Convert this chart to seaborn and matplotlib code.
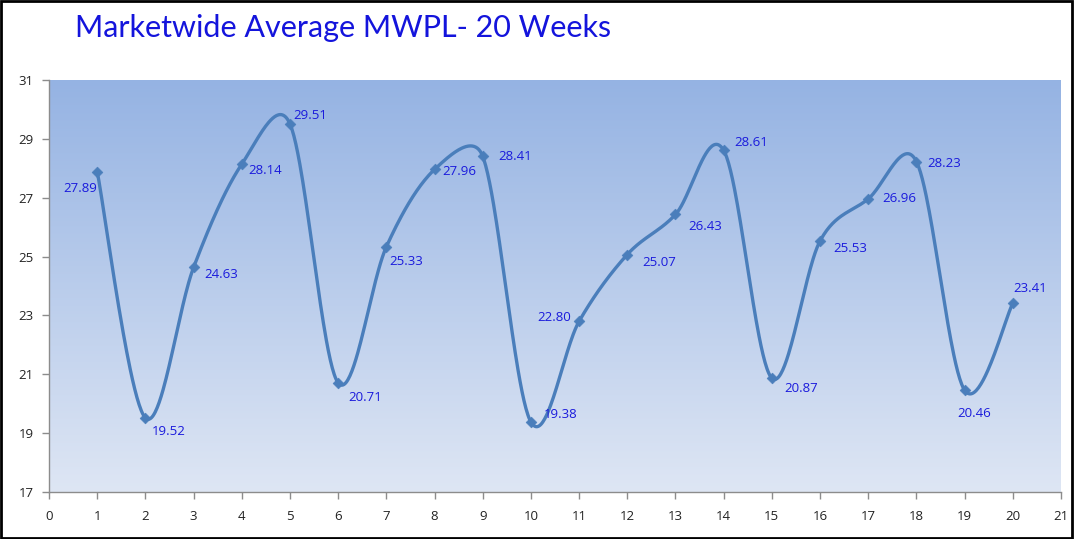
import numpy as np
import pandas as pd
import matplotlib
matplotlib.use("Agg")
import matplotlib.pyplot as plt
import seaborn as sns

weeks = list(range(1, 21))
mwpl = [27.89, 19.52, 24.63, 28.14, 29.51, 20.71, 25.33, 27.96, 28.41, 19.38,
        22.80, 25.07, 26.43, 28.61, 20.87, 25.53, 26.96, 28.23, 20.46, 23.41]
title = "Marketwide Average MWPL- 20 Weeks"
x_ticks = list(range(0, 22))
y_ticks = [17, 19, 21, 23, 25, 27, 29, 31]

# label offsets in pixels (dx, dy up-positive)
label_offsets = [(-17, -17), (23, -14), (28, -7), (23, -6), (20, 8), (27, -15),
                 (20, -15), (25, -2), (32, 0), (30, 7), (-25, 4), (32, -8),
                 (30, -12), (28, 8), (29, -10), (30, -8), (31, 0), (28, -2),
                 (10, -23), (17, 15)]

sns.set_theme(style="white")
plt.rcParams['font.family'] = ['Open Sans', 'DejaVu Sans']

fig = plt.figure(figsize=(10.74, 5.39), dpi=100)
ax = fig.add_axes([49/1074, 1-492/539, (1061-49)/1074, (492-80)/539])
ax.set_xlim(0, 21)
ax.set_ylim(17, 31)

# smooth curve like Excel smoothing (Bezier, arms capped in pixel space)
P = ax.transData.transform(np.column_stack([weeks, mwpl]).astype(float))
Pext = np.vstack([P[0], P, P[-1]])
curve = []
t = np.linspace(0, 1, 50)
for i in range(1, len(Pext) - 2):
    p0, p1, p2, p3 = Pext[i-1], Pext[i], Pext[i+1], Pext[i+2]
    seglen = np.linalg.norm(p2 - p1)
    a1 = (p2 - p0) / 6.0
    a2 = (p3 - p1) / 6.0
    for a in (a1, a2):
        n = np.linalg.norm(a)
        if n > seglen / 2:
            a *= (seglen / 2) / n
    c1 = p1 + a1
    c2 = p2 - a2
    seg = ((1-t)**3)[:, None]*p1 + (3*(1-t)**2*t)[:, None]*c1 + (3*(1-t)*t**2)[:, None]*c2 + (t**3)[:, None]*p2
    curve.append(seg if i == 1 else seg[1:])
curve = ax.transData.inverted().transform(np.vstack(curve))
cdf = pd.DataFrame({"x": curve[:, 0], "y": curve[:, 1]})

# gradient background
grad = np.linspace(0, 1, 256)[:, None]
top = np.array([0x95, 0xB3, 0xE3]) / 255
bot = np.array([0xDE, 0xE6, 0xF4]) / 255
img = top[None, None, :] * (1 - grad[:, :, None]) + bot[None, None, :] * grad[:, :, None]
ax.imshow(img, extent=[0, 21, 17, 31], aspect='auto', origin='upper', zorder=0)

line_color = "#4A7EBB"
sns.lineplot(data=cdf, x="x", y="y", sort=False, ax=ax, color=line_color, lw=2.4, zorder=3)
df = pd.DataFrame({"week": weeks, "mwpl": mwpl})
sns.scatterplot(data=df, x="week", y="mwpl", ax=ax, marker="D", s=30, color=line_color,
                edgecolor=line_color, zorder=4)

for (w, v), (dx, dy) in zip(zip(weeks, mwpl), label_offsets):
    ax.annotate(f"{v:.2f}", (w, v), xytext=(dx, dy), textcoords="offset pixels",
                ha="center", va="center", fontsize=9.5, color="#1a1adc", zorder=5)

ax.set_xlim(0, 21)
ax.set_ylim(17, 31)
ax.set_xticks(x_ticks)
ax.set_yticks(y_ticks)
ax.set_xlabel("")
ax.set_ylabel("")
for s in ["top", "right"]:
    ax.spines[s].set_visible(False)
for s in ["left", "bottom"]:
    ax.spines[s].set_color("#8c8c8c")
    ax.spines[s].set_linewidth(1)
ax.tick_params(axis="both", direction="out", length=5, width=1, color="#8c8c8c",
               labelsize=9.5, labelcolor="#222222", left=True, bottom=True)
ax.tick_params(axis="x", pad=8)
ax.tick_params(axis="y", pad=6)

fig.text(75/1074, 1-28/539, title, fontsize=22, color="#1414dc", ha="left", va="center",
         family=['Lato', 'DejaVu Sans'])

fig.patches.append(plt.Rectangle((0.001, 0.002), 0.997, 0.996, transform=fig.transFigure,
                                 fill=False, edgecolor="black", lw=2, zorder=10))

fig.savefig("out.png", dpi=100)
